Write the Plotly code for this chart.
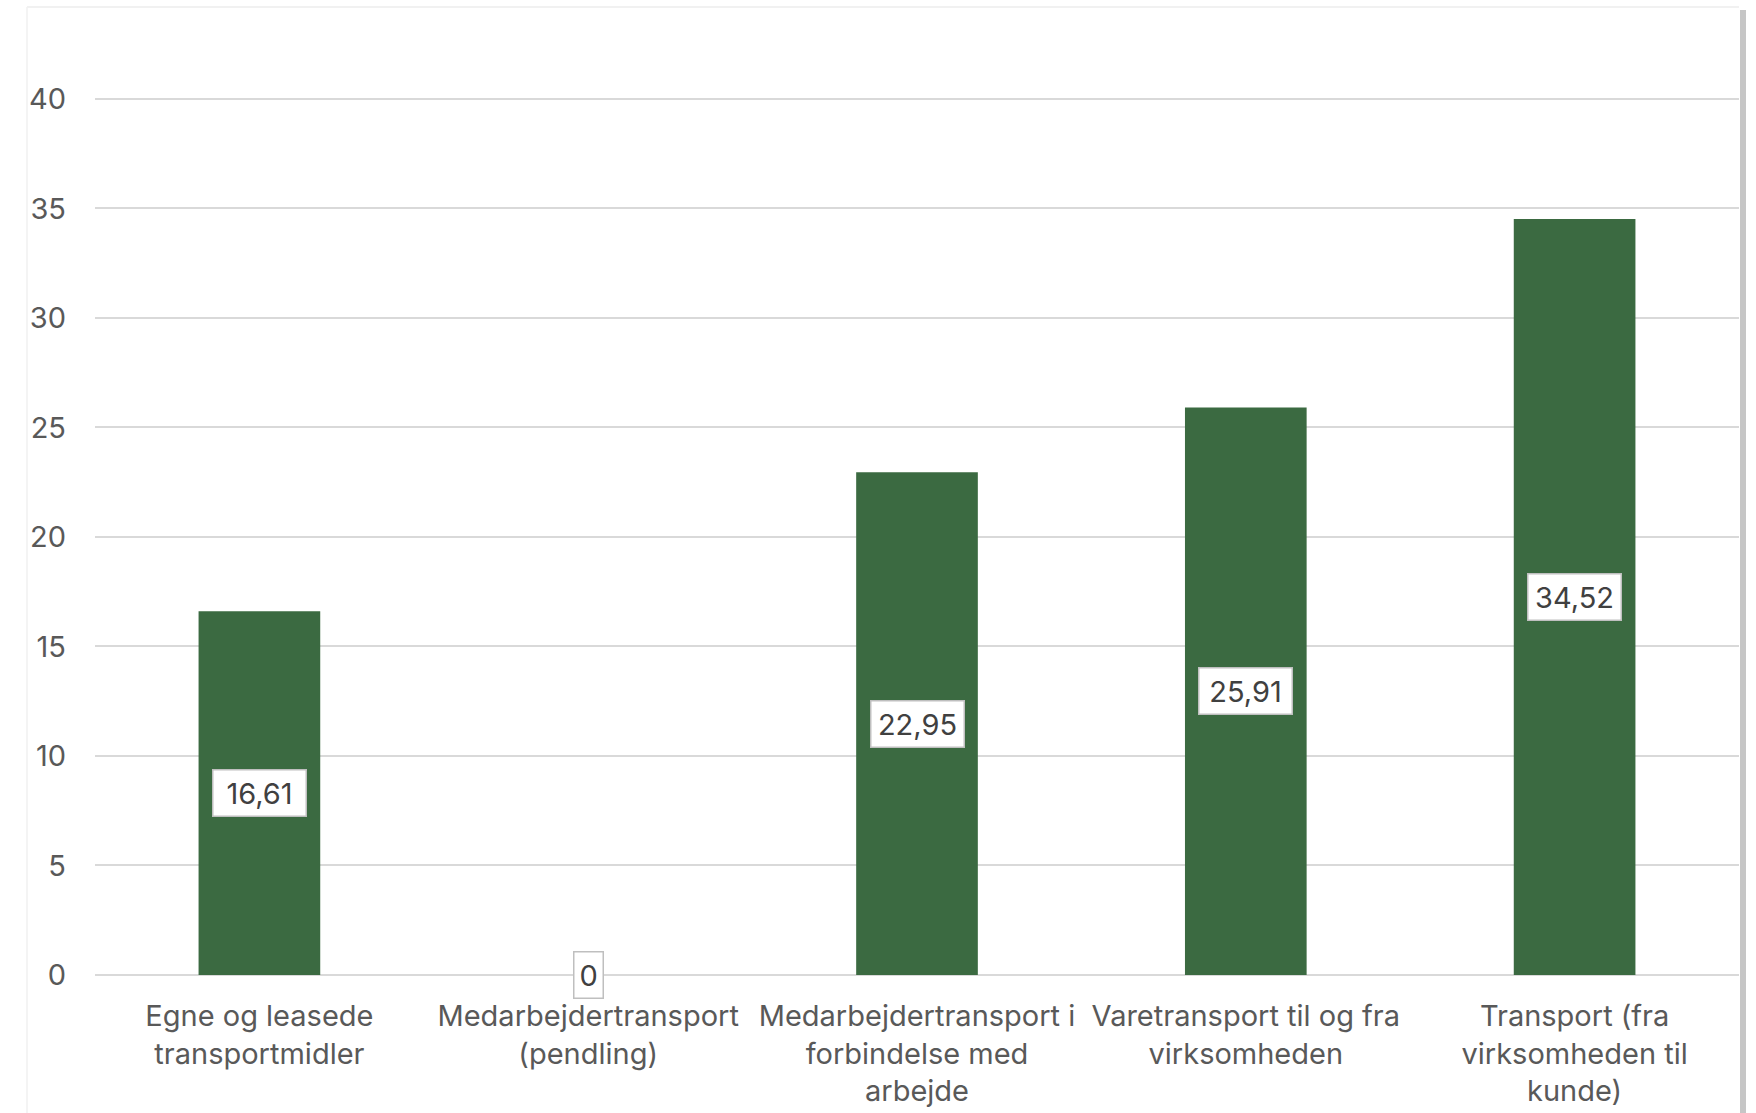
import plotly.graph_objects as go

categories = [
    "Egne og leasede<br>transportmidler",
    "Medarbejdertransport<br>(pendling)",
    "Medarbejdertransport i<br>forbindelse med<br>arbejde",
    "Varetransport til og fra<br>virksomheden",
    "Transport (fra<br>virksomheden til<br>kunde)",
]
values = [16.61, 0, 22.95, 25.91, 34.52]
value_labels = ["16,61", "0", "22,95", "25,91", "34,52"]
y_ticks = [0, 5, 10, 15, 20, 25, 30, 35, 40]

FONT = "Inter"
FS = 29
W, H = 1756, 1113
ML, MR, MT, MB = 95, 17, 77, 138

fig = go.Figure()
fig.add_trace(go.Bar(
    x=categories, y=values,
    marker=dict(color="#3B6A41", line=dict(width=0)),
    hoverinfo="skip",
))

for c, v, t in zip(categories, values, value_labels):
    fig.add_annotation(
        x=c, y=v / 2, text=t, showarrow=False,
        font=dict(family=FONT, size=FS, color="#404040"),
        bgcolor="white", bordercolor="#BFBFBF", borderwidth=1.5, borderpad=5,
        width=82 if len(t) > 1 else None,
        xanchor="center", yanchor="middle",
    )

pw = W - ML - MR
ph = H - MT - MB
def px_x(p):
    return (p - ML) / pw
def px_y(p):
    return (H - MB - p) / ph

# chart frame + right shadow
fig.add_shape(type="line", xref="paper", yref="paper",
              x0=px_x(27), x1=px_x(1739), y0=px_y(7), y1=px_y(7),
              line=dict(color="#EDEDED", width=1.5))
fig.add_shape(type="line", xref="paper", yref="paper",
              x0=px_x(27), x1=px_x(27), y0=px_y(7), y1=px_y(H),
              line=dict(color="#F0F0F0", width=1.5))
fig.add_shape(type="rect", xref="paper", yref="paper",
              x0=px_x(1740), x1=px_x(1746), y0=px_y(10), y1=px_y(H),
              fillcolor="#B8B8B8", line=dict(width=0), opacity=0.8)

fig.update_layout(
    width=W, height=H,
    margin=dict(l=ML, r=MR, t=MT, b=MB, autoexpand=False),
    paper_bgcolor="white", plot_bgcolor="white",
    bargap=0.63,
    showlegend=False,
    font=dict(family=FONT, size=FS, color="#595959"),
    xaxis=dict(
        showgrid=False, showline=False, zeroline=False, automargin=False,
        tickfont=dict(family=FONT, size=FS, color="#595959"),
        ticks="", ticklabelstandoff=21,
    ),
    yaxis=dict(
        range=[0, 41], tickvals=y_ticks, automargin=False,
        showgrid=True, gridcolor="#D9D9D9", gridwidth=1.5,
        zeroline=True, zerolinecolor="#D9D9D9", zerolinewidth=1.5,
        showline=False, ticks="",
        tickfont=dict(family=FONT, size=FS, color="#595959"),
        ticklabelstandoff=28,
    ),
)

fig.write_html(
    "out.html",
    config={"displayModeBar": False},
    post_script="document.body.style.margin='0';document.body.style.overflow='hidden';",
)
